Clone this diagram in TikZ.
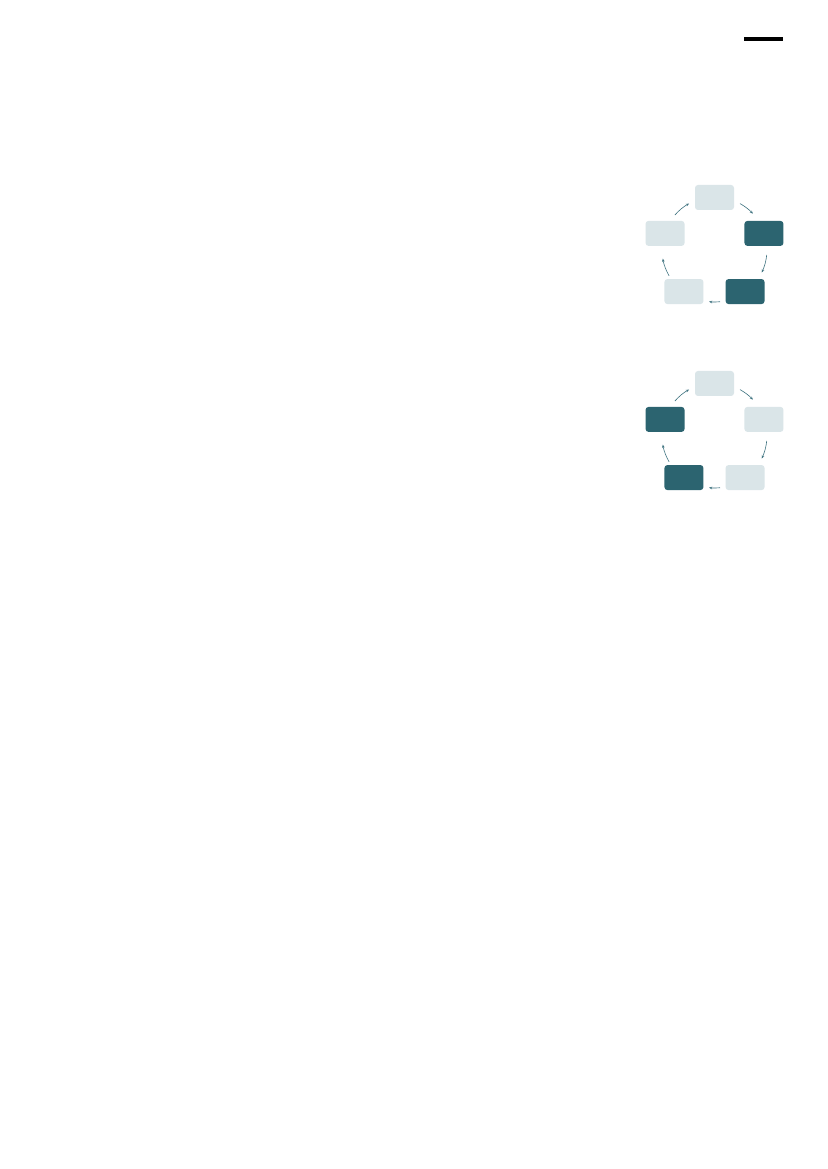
\documentclass[tikz,border=0pt]{standalone}
\usetikzlibrary{arrows.meta,calc}
\definecolor{tealdark}{HTML}{2C6470}
\definecolor{teallight}{HTML}{DAE5E8}
\definecolor{arrowcol}{HTML}{3F7380}
\tikzset{
  box/.style={rectangle, minimum width=39pt, minimum height=25pt, inner sep=0pt, rounded corners=3pt, draw=none},
  boxlight/.style={box, fill=teallight},
  boxdark/.style={box, fill=tealdark},
  cyc/.style={draw=arrowcol, line width=0.6pt, -{Stealth[length=3.2pt,width=2.6pt]}}
}
\begin{document}
\begin{tikzpicture}[x=1pt,y=1pt]
\useasboundingbox (0,0) rectangle (827,1169);
\fill[white] (0,0) rectangle (827,1169);
% top rule
\coordinate (ruleA) at (744,1130.3);
\coordinate (ruleB) at (783.3,1130.3);
\draw[line width=4pt, black] (ruleA) -- (ruleB);
% cycle 1
\coordinate (c1) at (714.5,919.5);
\node[boxlight] (a1) at ($(c1)+(90:52pt)$) {};
\node[boxdark]  (b1) at ($(c1)+(18:52pt)$) {};
\node[boxdark]  (d1) at ($(c1)+(-54:52pt)$) {};
\node[boxlight] (e1) at ($(c1)+(-126:52pt)$) {};
\node[boxlight] (f1) at ($(c1)+(162:52pt)$) {};
\draw[cyc] ($(c1)+(61:52.5pt)$) arc[start angle=61,end angle=43,radius=52.5pt];
\draw[cyc] ($(c1)+(-6:52.5pt)$) arc[start angle=-6,end angle=-26,radius=52.5pt];
\draw[cyc] ($(c1)+(-84:52.5pt)$) arc[start angle=-84,end angle=-96,radius=52.5pt];
\draw[cyc] ($(c1)+(210:52.5pt)$) arc[start angle=210,end angle=190,radius=52.5pt];
\draw[cyc] ($(c1)+(139:52.5pt)$) arc[start angle=139,end angle=119,radius=52.5pt];
% cycle 2
\coordinate (c2) at (714.5,733.5);
\node[boxlight] (a2) at ($(c2)+(90:52pt)$) {};
\node[boxlight] (b2) at ($(c2)+(18:52pt)$) {};
\node[boxlight] (d2) at ($(c2)+(-54:52pt)$) {};
\node[boxdark]  (e2) at ($(c2)+(-126:52pt)$) {};
\node[boxdark]  (f2) at ($(c2)+(162:52pt)$) {};
\draw[cyc] ($(c2)+(61:52.5pt)$) arc[start angle=61,end angle=43,radius=52.5pt];
\draw[cyc] ($(c2)+(-6:52.5pt)$) arc[start angle=-6,end angle=-26,radius=52.5pt];
\draw[cyc] ($(c2)+(-84:52.5pt)$) arc[start angle=-84,end angle=-96,radius=52.5pt];
\draw[cyc] ($(c2)+(210:52.5pt)$) arc[start angle=210,end angle=190,radius=52.5pt];
\draw[cyc] ($(c2)+(139:52.5pt)$) arc[start angle=139,end angle=119,radius=52.5pt];
\end{tikzpicture}
\end{document}
